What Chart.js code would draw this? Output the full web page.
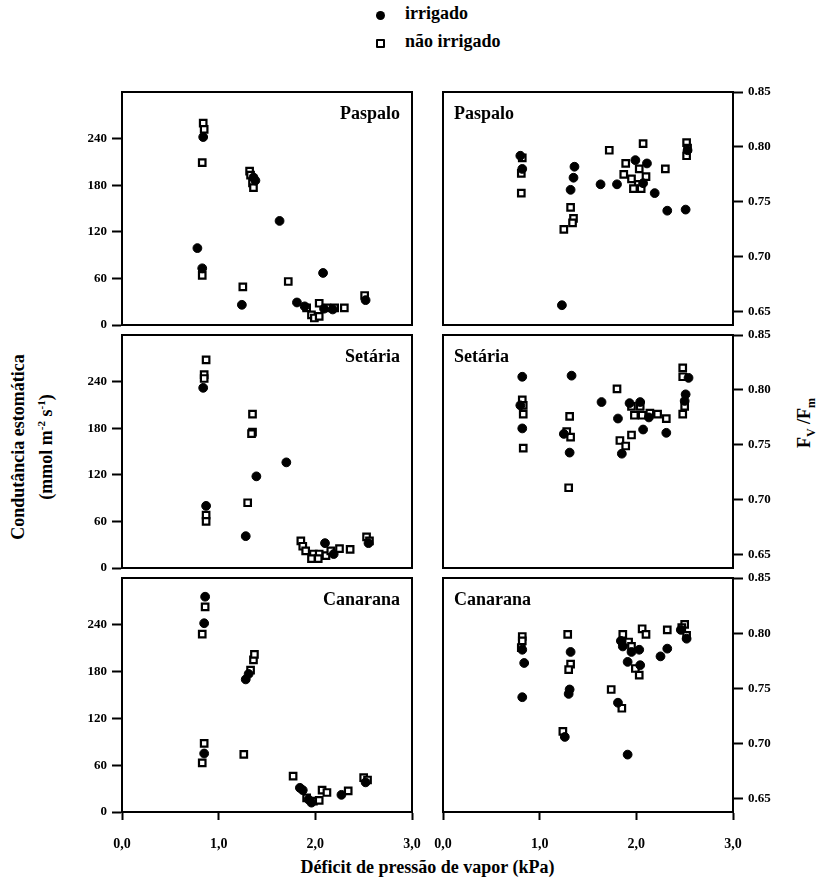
<!DOCTYPE html>
<html>
<head>
<meta charset="utf-8">
<script src="https://cdn.jsdelivr.net/npm/chart.js@4.4.0/dist/chart.umd.min.js"></script>
<style>
  body { margin: 0; background: #fff; }
  #fig { position: relative; width: 820px; height: 883px; font-family: 'Liberation Serif', serif; font-weight: bold; color: #000; }
  canvas { position: absolute; }
  .txt { position: absolute; white-space: nowrap; font-size: 18px; }
  .rot { position: absolute; white-space: nowrap; transform: translate(-50%, -50%) rotate(-90deg); font-size: 18px; text-align: center; line-height: 23px; }
  .dot { position: absolute; width: 9px; height: 9px; border-radius: 50%; background: #000; }
  .box { position: absolute; width: 5px; height: 5px; border: 2px solid #000; border-radius: 1px; background: #fff; }
</style>
</head>
<body>
<div id="fig">
  <div class="dot" style="left:376px; top:11px;"></div>
  <div class="txt" style="left:405px; top:3px;">irrigado</div>
  <div class="box" style="left:376px; top:39px;"></div>
  <div class="txt" style="left:405px; top:31px;">não irrigado</div>

  <div class="rot" style="left:32px; top:447px;">Condutância estomática<br>(mmol m<sup style="font-size:11px">-2</sup> s<sup style="font-size:11px">-1</sup>)</div>
  <div class="rot" style="left:808px; top:423px;">F<sub style="font-size:12px">V</sub> /F<sub style="font-size:12px">m</sub></div>
  <div class="txt" style="left:0; width:855px; text-align:center; top:857px;">Déficit de pressão de vapor (kPa)</div>

  <canvas id="c0"></canvas><canvas id="c1"></canvas>
  <canvas id="c2"></canvas><canvas id="c3"></canvas>
  <canvas id="c4"></canvas><canvas id="c5"></canvas>
</div>

<script>
// tick labels
var xTicks = [0, 1, 2, 3];
var xTickLabels = ['0,0', '1,0', '2,0', '3,0'];
var gsTicks = [0, 60, 120, 180, 240];
var fvTicks = [0.65, 0.70, 0.75, 0.80, 0.85];
var fvTickLabels = ['0.65', '0.70', '0.75', '0.80', '0.85'];

var especies = ['Paspalo', 'Setária', 'Canarana'];
var series = ['irrigado', 'não irrigado'];

// [déficit de pressão de vapor (kPa), valor]
// Paspalo
var gsPaspaloIrr = [[0.78,99],[0.83,73],[0.84,242],[1.24,26],[1.36,190],[1.38,186],[1.63,134],[1.81,29],[2.08,67],[1.89,24],[2.09,21],[2.18,20],[2.52,32]];
var gsPaspaloNao = [[0.84,260],[0.85,252],[0.83,209],[0.83,64],[1.25,49],[1.32,198],[1.33,193],[1.35,183],[1.36,177],[1.72,56],[1.91,22],[1.96,13],[1.99,9],[2.04,11],[2.04,28],[2.12,22],[2.20,22],[2.30,22],[2.51,38]];
var fvPaspaloIrr = [[0.80,0.792],[0.82,0.780],[1.36,0.782],[1.35,0.772],[1.32,0.761],[1.23,0.656],[1.63,0.766],[1.80,0.766],[1.99,0.788],[2.11,0.785],[2.07,0.767],[2.19,0.758],[2.32,0.742],[2.53,0.797],[2.51,0.743]];
var fvPaspaloNao = [[0.82,0.790],[0.81,0.776],[0.81,0.758],[1.32,0.745],[1.35,0.735],[1.34,0.731],[1.25,0.725],[1.72,0.797],[2.07,0.803],[1.89,0.785],[2.03,0.780],[1.87,0.775],[1.95,0.771],[2.10,0.773],[2.02,0.766],[1.97,0.762],[2.05,0.762],[2.30,0.780],[2.52,0.804],[2.53,0.799],[2.52,0.792]];

// Setária
var gsSetariaIrr = [[0.84,232],[0.87,80],[1.28,41],[1.39,118],[1.70,136],[2.10,32],[2.19,18],[2.55,32]];
var gsSetariaNao = [[0.87,268],[0.85,249],[0.85,244],[0.87,68],[0.87,60],[1.30,84],[1.35,198],[1.35,175],[1.34,173],[1.85,35],[1.87,28],[1.90,22],[1.98,18],[2.04,18],[1.96,12],[2.03,12],[2.11,16],[2.16,22],[2.25,25],[2.36,24],[2.53,40],[2.56,35]];
var fvSetariaIrr = [[0.82,0.812],[0.80,0.786],[0.82,0.765],[1.33,0.813],[1.25,0.760],[1.31,0.743],[1.64,0.789],[1.81,0.774],[1.85,0.742],[2.07,0.764],[1.93,0.788],[2.04,0.789],[2.13,0.775],[2.31,0.761],[2.54,0.811],[2.51,0.796],[2.50,0.790]];
var fvSetariaNao = [[0.82,0.791],[0.83,0.786],[0.83,0.778],[0.83,0.747],[1.31,0.776],[1.28,0.762],[1.32,0.757],[1.30,0.711],[1.80,0.801],[1.83,0.754],[1.89,0.749],[1.95,0.759],[1.95,0.785],[2.04,0.785],[1.98,0.777],[2.06,0.777],[2.14,0.779],[2.22,0.778],[2.31,0.774],[2.48,0.820],[2.48,0.812],[2.50,0.785],[2.48,0.778]];

// Canarana
var gsCanaranaIrr = [[0.86,276],[0.85,242],[0.85,75],[1.28,170],[1.31,177],[1.84,31],[1.87,28],[1.93,16],[1.96,12],[2.27,22],[2.52,38]];
var gsCanaranaNao = [[0.86,263],[0.83,228],[0.85,88],[0.83,63],[1.26,74],[1.33,182],[1.36,195],[1.37,202],[1.77,46],[1.91,18],[1.98,14],[2.04,15],[2.07,28],[2.12,25],[2.34,27],[2.50,44],[2.54,41]];
var fvCanaranaIrr = [[0.82,0.785],[0.84,0.773],[0.82,0.742],[1.32,0.783],[1.31,0.749],[1.30,0.745],[1.26,0.706],[1.81,0.737],[1.91,0.690],[1.84,0.793],[1.86,0.788],[1.95,0.783],[2.03,0.785],[1.91,0.774],[2.04,0.771],[2.32,0.786],[2.25,0.779],[2.46,0.803],[2.52,0.795]];
var fvCanaranaNao = [[0.82,0.797],[0.82,0.793],[0.81,0.787],[1.29,0.799],[1.32,0.772],[1.30,0.767],[1.24,0.711],[1.74,0.749],[1.85,0.732],[1.86,0.799],[1.92,0.792],[1.95,0.788],[1.99,0.768],[2.03,0.762],[2.06,0.804],[2.10,0.799],[2.32,0.803],[2.50,0.808],[2.47,0.805],[2.52,0.798]];

Chart.defaults.font.family = "'Liberation Serif', serif";
Chart.defaults.font.weight = 'bold';
Chart.defaults.font.size = 14;
Chart.defaults.color = '#000';

// frame round the plot area + species name
var framePlugin = {
  id: 'frame',
  afterDraw: function(chart){
    var a = chart.chartArea, ctx = chart.ctx;
    var o = chart.options.plugins.frame;
    ctx.save();
    ctx.strokeStyle = '#000';
    ctx.lineWidth = 2;
    ctx.strokeRect(a.left, a.top, a.right - a.left, a.bottom - a.top);
    ctx.font = "bold 18px 'Liberation Serif', serif";
    ctx.fillStyle = '#000';
    ctx.textBaseline = 'middle';
    if (o.side == 'left') {
      ctx.textAlign = 'left';
      ctx.fillText(o.text, a.left + 11, a.top + 22);
    } else {
      ctx.textAlign = 'right';
      ctx.fillText(o.text, a.right - 12, a.top + 22);
    }
    ctx.restore();
  }
};

// tick labels may stick out of the plot area, like in the original figure
function noPadding(s){
  s.paddingTop = 0;
  s.paddingBottom = 0;
  s.paddingLeft = 0;
  s.paddingRight = 0;
}

var rowTop = [92, 335, 578];
var rowBottom = [325, 568, 812];

function toPts(arr){
  return arr.map(function(p){ return {x: p[0], y: p[1]}; });
}

function drawPanel(id, row, col, irr, nao){
  var last = row == 2;
  var axisH = last ? 48 : 4;
  var canvas = document.getElementById(id);
  var left = col == 0 ? 60 : 433;
  var width = col == 0 ? 362 : 377;
  var height = rowBottom[row] - rowTop[row] + 8 + axisH;
  canvas.width = width;
  canvas.height = height;
  canvas.style.left = left + 'px';
  canvas.style.top = (rowTop[row] - 8) + 'px';

  var yTicks = col == 0 ? gsTicks : fvTicks;

  new Chart(canvas.getContext('2d'), {
    type: 'scatter',
    data: {
      datasets: [{
        label: series[0],
        data: toPts(irr),
        pointStyle: 'circle',
        pointRadius: 4.4,
        backgroundColor: '#000',
        borderColor: '#000',
        borderWidth: 1
      }, {
        label: series[1],
        data: toPts(nao),
        pointStyle: 'rect',
        pointRadius: 4.6,
        backgroundColor: '#fff',
        borderColor: '#000',
        borderWidth: 2.2
      }]
    },
    options: {
      responsive: false,
      animation: false,
      layout: {
        autoPadding: false,
        padding: col == 0 ? {left: 0, right: 10, top: 8, bottom: 0} : {left: 10, right: 0, top: 8, bottom: 0}
      },
      plugins: {
        legend: { display: false },
        tooltip: { enabled: false },
        frame: { text: especies[row], side: col == 0 ? 'right' : 'left' }
      },
      scales: {
        x: {
          type: 'linear',
          min: 0,
          max: 3,
          afterBuildTicks: function(s){ s.ticks = xTicks.map(function(v){ return {value: v}; }); },
          afterFit: function(s){ s.height = axisH; noPadding(s); },
          grid: { drawOnChartArea: false, drawTicks: last, tickLength: 8, tickWidth: 2, color: '#000' },
          border: { color: '#000', width: 2 },
          ticks: {
            display: last,
            padding: 16,
            maxRotation: 0,
            font: { size: 14, weight: 'bold' },
            callback: function(v, i){ return xTickLabels[i]; }
          }
        },
        y: {
          type: 'linear',
          position: col == 0 ? 'left' : 'right',
          min: col == 0 ? 0 : 0.638,
          max: col == 0 ? 300 : 0.85,
          afterBuildTicks: function(s){ s.ticks = yTicks.map(function(v){ return {value: v}; }); },
          afterFit: function(s){ s.width = col == 0 ? 62 : 77; noPadding(s); },
          grid: { drawOnChartArea: false, tickLength: 10, tickWidth: 2, color: '#000' },
          border: { color: '#000', width: 2 },
          ticks: {
            padding: 5,
            font: { size: 13, weight: 'bold' },
            callback: function(v, i){ return col == 0 ? gsTicks[i] : fvTickLabels[i]; }
          }
        }
      }
    },
    plugins: [framePlugin]
  });
}

drawPanel('c0', 0, 0, gsPaspaloIrr, gsPaspaloNao);
drawPanel('c1', 0, 1, fvPaspaloIrr, fvPaspaloNao);
drawPanel('c2', 1, 0, gsSetariaIrr, gsSetariaNao);
drawPanel('c3', 1, 1, fvSetariaIrr, fvSetariaNao);
drawPanel('c4', 2, 0, gsCanaranaIrr, gsCanaranaNao);
drawPanel('c5', 2, 1, fvCanaranaIrr, fvCanaranaNao);
</script>
</body>
</html>
